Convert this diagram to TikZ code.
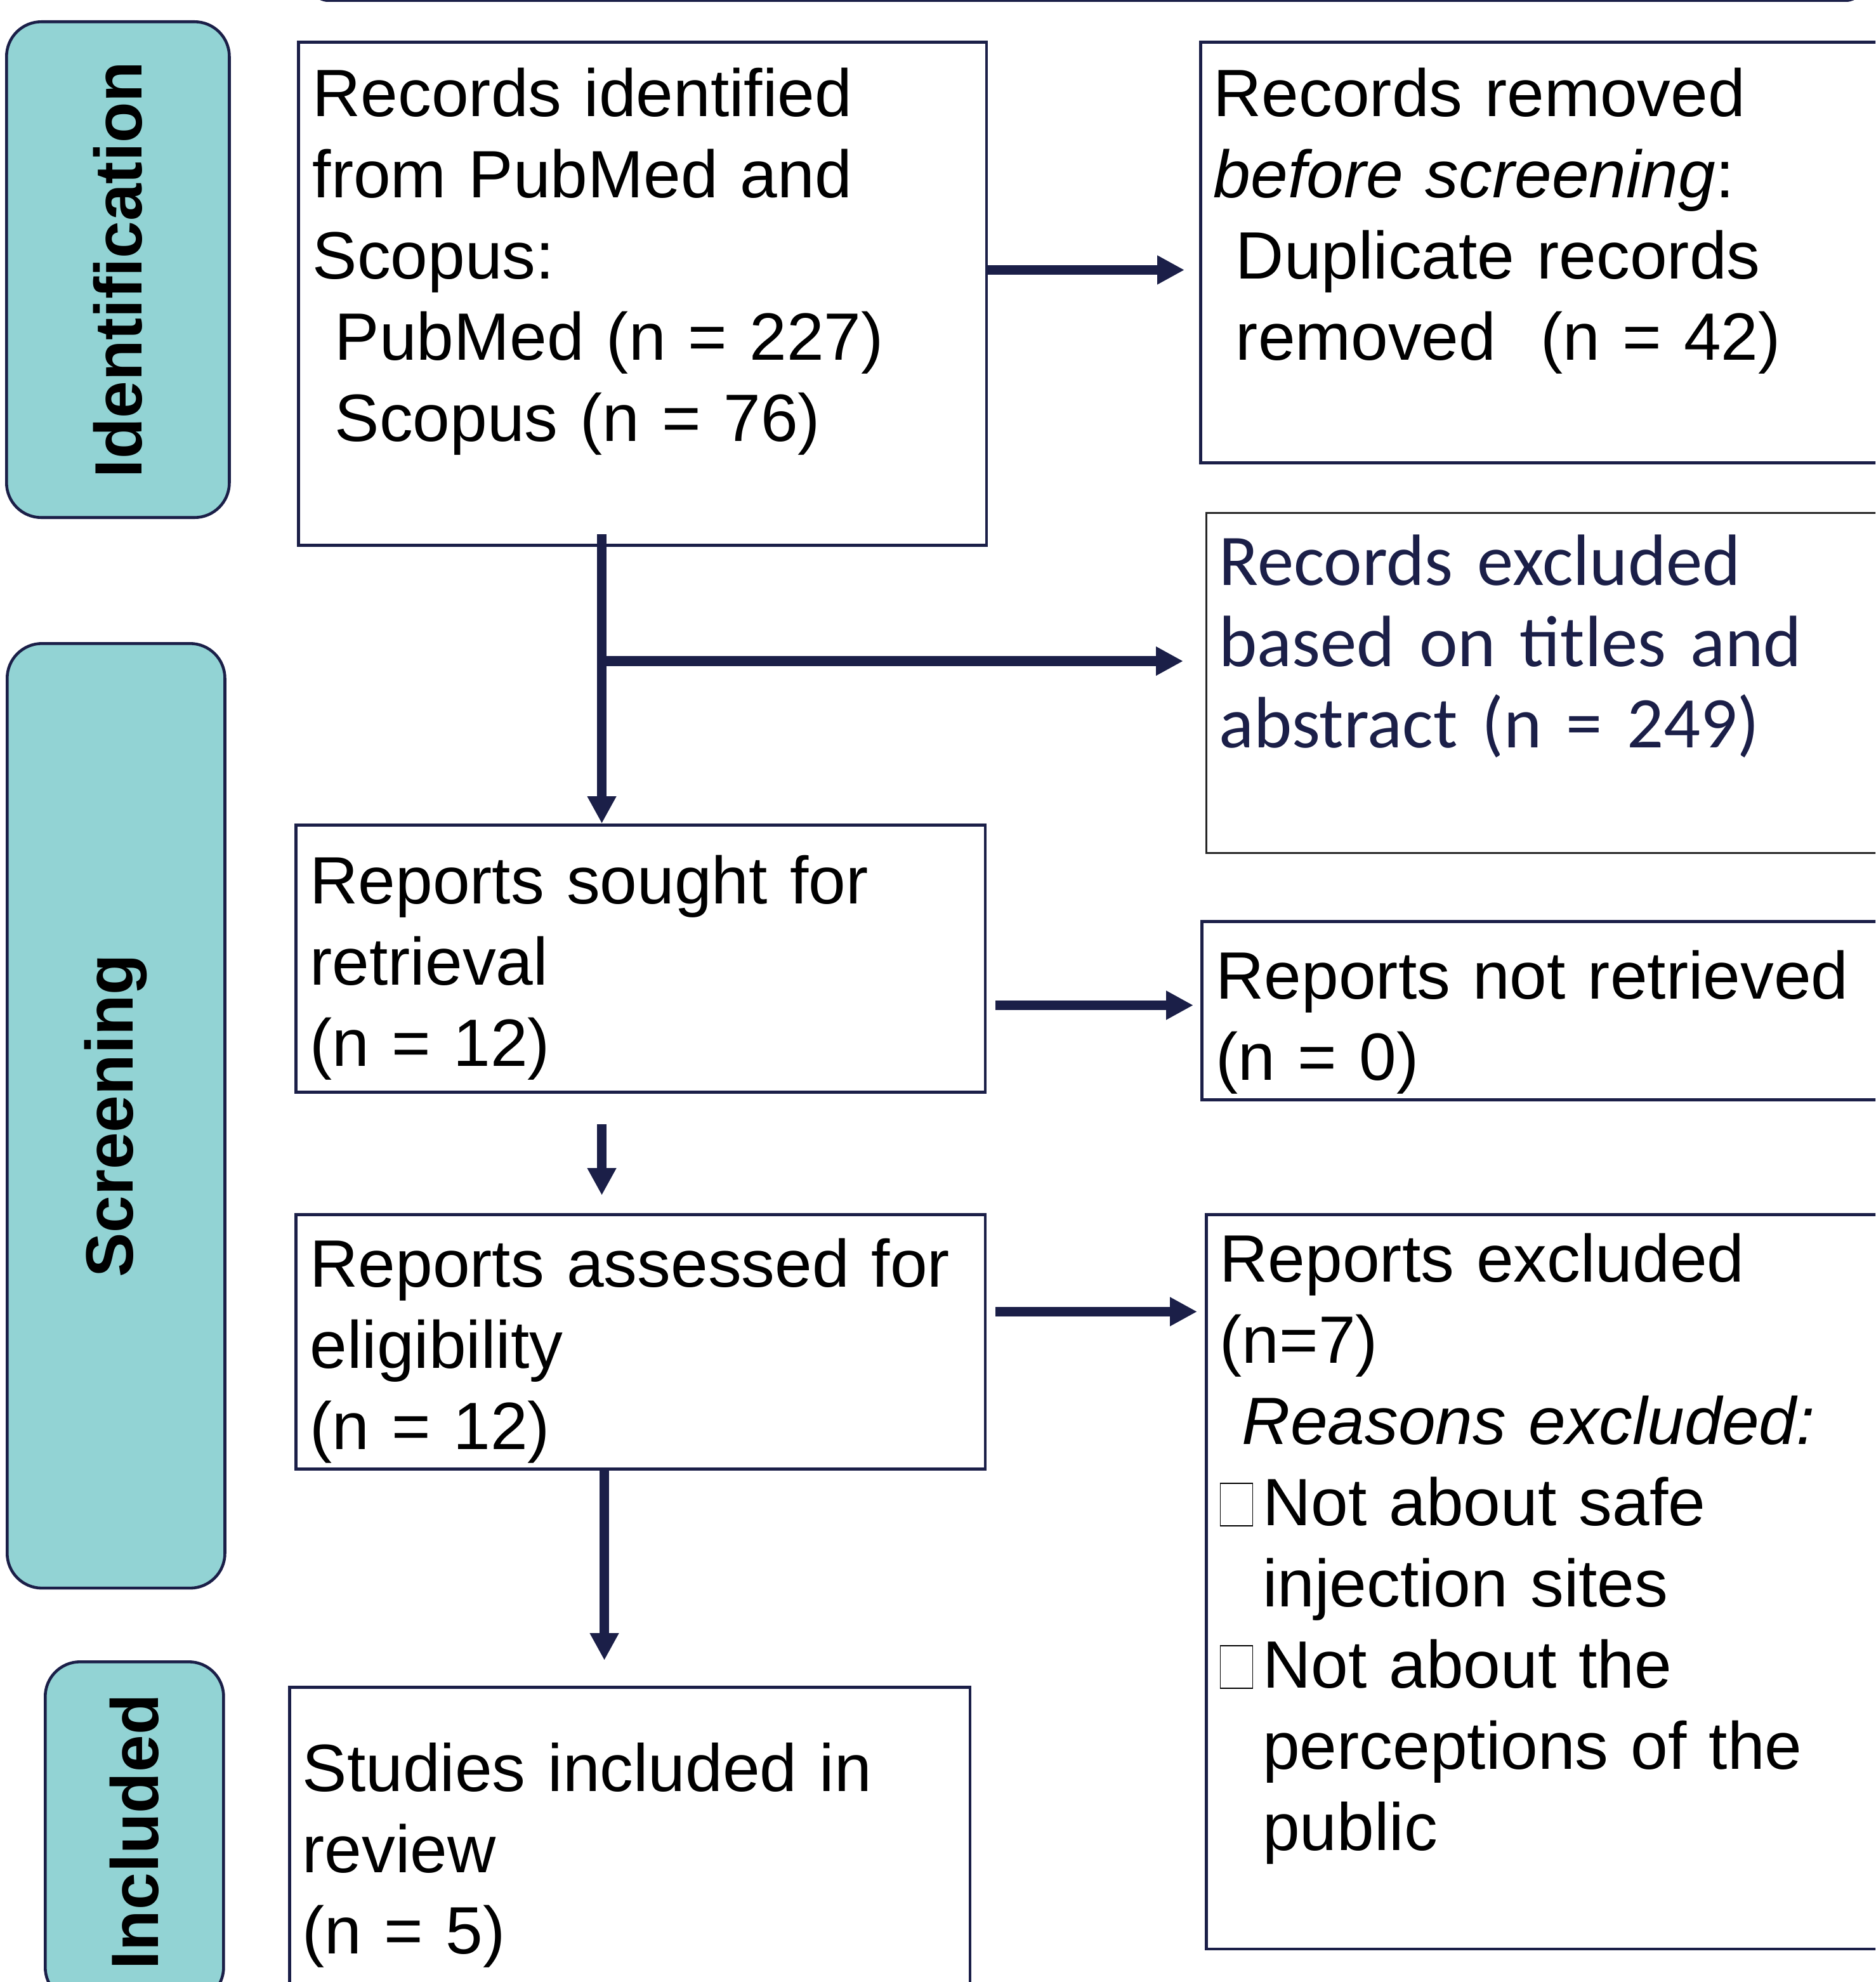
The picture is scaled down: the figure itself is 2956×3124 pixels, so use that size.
\documentclass[tikz,border=0pt]{standalone}
\usepackage{fontspec}
\setmainfont{Liberation Sans}
\newfontfamily\calibri{Carlito}
\usetikzlibrary{arrows.meta}
\definecolor{prismanavy}{RGB}{27,31,72}
\definecolor{prismateal}{RGB}{146,211,212}

% empty tick box in front of a reason
\newcommand{\tickbox}{{\setlength{\fboxsep}{0pt}\setlength{\fboxrule}{0.5pt}%
  \fbox{\rule{0pt}{18.5pt}\hspace{14pt}}}\hspace{4.2pt}}
\newcommand{\hang}{\hspace*{19.2pt}}

\begin{document}
\begin{tikzpicture}[x=0.01cm, y=-0.01cm, >={Triangle[length=12.2pt,width=12.2pt]},
  box/.style={draw=prismanavy, line width=1.3pt, inner sep=0pt, anchor=north west},
  tab/.style={draw=prismanavy, fill=prismateal, line width=1.3pt, rounded corners=15.6pt,
    inner sep=0pt, anchor=north west},
  txt/.style={anchor=base west, inner sep=0pt, align=left, text width=11cm,
    font=\fontsize{30}{36.4}\selectfont},
  stage/.style={rotate=90, inner sep=0pt, font=\fontsize{30}{36}\selectfont\bfseries},
  arr/.style={->, draw=prismanavy, fill=prismanavy, line width=4.3pt}]
  \clip (0,0) rectangle (2956,3124);

  % Box above (cut off)
  \node[box, anchor=south west, rounded corners=8pt, minimum width=24.47cm, minimum height=2cm] (prev) at (487,3) {};

  % Stage tabs
  \node[tab, minimum width=3.51cm, minimum height=7.81cm] (idtab) at (8,32) {};
  \node[tab, minimum width=3.43cm, minimum height=14.88cm] (scrtab) at (9,1012) {};
  \node[tab, minimum width=2.81cm, minimum height=5.36cm] (inctab) at (69,2617) {};
  \node[stage] (idlab) at (idtab.center) {Identification};
  \node[stage] (scrlab) at (scrtab.center) {Screening};
  \node[stage] (inclab) at (inctab.center) {Included};

  % Boxes
  \node[box, minimum width=10.84cm, minimum height=7.93cm] (ident) at (468,64) {};
  \node[box, minimum width=11.10cm, minimum height=6.63cm] (removed) at (1890,64) {};
  \node[box, draw=black!85, line width=0.8pt, minimum width=11.00cm, minimum height=5.36cm] (excl) at (1900,807) {};
  \node[box, minimum width=10.86cm, minimum height=4.21cm] (sought) at (464,1298) {};
  \node[box, minimum width=11.08cm, minimum height=2.81cm] (notret) at (1892,1450) {};
  \node[box, minimum width=10.86cm, minimum height=4.01cm] (assessed) at (464,1912) {};
  \node[box, minimum width=11.01cm, minimum height=11.57cm] (repexcl) at (1899,1912) {};
  \node[box, minimum width=10.72cm, minimum height=5.43cm] (included) at (454,2657) {};

  % Texts
  \node[txt] (identtxt) at (492,183) {Records identified\\from PubMed and\\Scopus:\\
    \hspace*{10pt}PubMed (n = 227)\\\hspace*{10pt}Scopus (n = 76)};
  \node[txt] (removedtxt) at (1912,183) {Records removed\\\textit{before screening}:\\
    \hspace*{10pt}Duplicate records\\\hspace*{10pt}removed\ \ (n = 42)};
  \node[txt, text=prismanavy, font=\calibri\fontsize{32.6}{36.4}\selectfont] (excltxt) at (1921,922)
    {Records excluded\\based on titles and\\abstract (n = 249)};
  \node[txt] (soughttxt) at (488,1424) {Reports sought for\\retrieval\\(n = 12)};
  \node[txt] (notrettxt) at (1916,1574) {Reports not retrieved\\(n = 0)};
  \node[txt] (assessedtxt) at (488,2028) {Reports assessed for\\eligibility\\(n = 12)};
  \node[txt] (repexcltxt) at (1922,2020) {Reports excluded\\(n=7)\\
    \hspace*{10pt}\textit{Reasons excluded:}\\
    \tickbox Not about safe\\\hang injection sites\\
    \tickbox Not about the\\\hang perceptions of the\\\hang public};
  \node[txt] (includedtxt) at (476,2823) {Studies included in\\review\\(n = 5)};

  % Arrows
  \path ([yshift=0.375cm]ident.east) coordinate (a1);
  \draw[arr, shorten >=0.23cm] (a1) -- (a1 -| removed.west);

  \path ([xshift=-0.64cm,yshift=0.2cm]ident.south) coordinate (a2);
  \draw[arr] (a2) -- (a2 |- sought.north);
  \path (a2) ++(0,200) coordinate (split);
  \draw[arr, shorten >=0.35cm] (split) -- (split -| excl.west);

  \path ([yshift=-0.735cm]sought.east) coordinate (a3);
  \draw[arr, shorten <=0.14cm, shorten >=0.11cm] (a3) -- (a3 -| notret.west);

  \path ([xshift=-0.61cm]sought.south) coordinate (a4);
  \draw[arr, shorten <=0.48cm, shorten >=0.28cm] (a4) -- (a4 |- assessed.north);

  \path ([yshift=0.475cm]assessed.east) coordinate (a5);
  \draw[arr, shorten <=0.14cm, shorten >=0.12cm] (a5) -- (a5 -| repexcl.west);

  \path ([xshift=-0.57cm]assessed.south) coordinate (a6);
  \draw[arr, shorten >=0.40cm] (a6) -- (a6 |- included.north);
\end{tikzpicture}
\end{document}
